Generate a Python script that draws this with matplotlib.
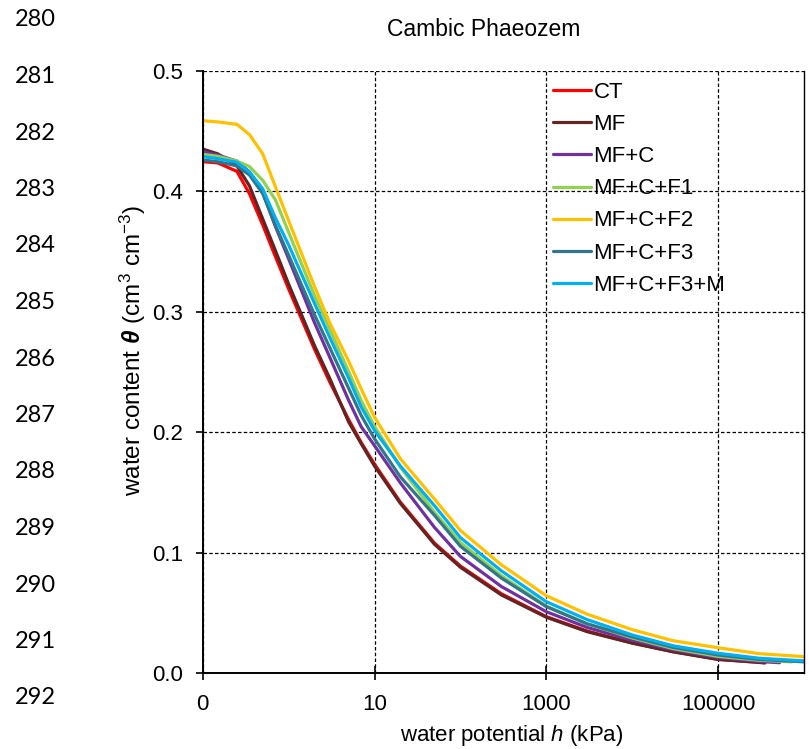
import matplotlib
matplotlib.use("Agg")
import matplotlib.pyplot as plt
from matplotlib.ticker import FixedLocator, FixedFormatter, NullLocator, MultipleLocator

plt.rcParams["font.family"] = ["Liberation Sans", "DejaVu Sans"]
plt.rcParams["mathtext.fontset"] = "custom"
plt.rcParams["mathtext.rm"] = "Liberation Sans"
plt.rcParams["mathtext.it"] = "Liberation Sans:italic"
plt.rcParams["mathtext.bf"] = "Liberation Sans:bold:italic"

# water potential h (kPa), common read-off points
H = [0.1, 0.15, 0.25, 0.35, 0.5, 0.7, 1, 2, 3, 5, 7, 10, 20, 50, 100, 300,
     1000, 3000, 1e4, 3e4, 1e5, 3e5]

# water content (cm3 cm-3) per treatment
CT = [0.4245, 0.4235, 0.4165, 0.398, 0.372, 0.346, 0.319, 0.269, 0.242, 0.2105,
      0.1915, 0.1736, 0.142, 0.108, 0.089, 0.066, 0.047, 0.035, 0.0253, 0.018,
      0.0116, 0.0092]
MF = [0.435, 0.431, 0.421, 0.4045, 0.377, 0.351, 0.323, 0.272, 0.245, 0.2085,
      0.1905, 0.172, 0.141, 0.107, 0.088, 0.065, 0.0465, 0.0345, 0.025, 0.0178,
      0.0115, 0.009]
MF_C = [0.4328, 0.430, 0.425, 0.416, 0.399, 0.371, 0.344, 0.291, 0.2626, 0.2265,
        0.2046, 0.1889, 0.158, 0.121, 0.097, 0.072, 0.0511, 0.038, 0.0275, 0.0195,
        0.013, 0.0098]
MF_C_F1 = [0.4306, 0.429, 0.425, 0.4205, 0.409, 0.393, 0.366, 0.3135, 0.2856, 0.2505,
           0.2264, 0.205, 0.171, 0.1335, 0.1085, 0.081, 0.0558, 0.041, 0.0293, 0.0205,
           0.014, 0.0108]
MF_C_F2 = [0.4585, 0.4575, 0.4555, 0.447, 0.431, 0.404, 0.3756, 0.321, 0.291, 0.259,
           0.236, 0.2125, 0.178, 0.1445, 0.1185, 0.090, 0.0644, 0.049, 0.0362, 0.027,
           0.0212, 0.0163]
MF_C_F3 = [0.4259, 0.4245, 0.421, 0.4135, 0.398, 0.372, 0.347, 0.2976, 0.2705, 0.2365,
           0.214, 0.1946, 0.163, 0.131, 0.1054, 0.079, 0.0553, 0.041, 0.0302, 0.0215,
           0.0152, 0.0115]
MF_C_F3_M = [0.4287, 0.427, 0.424, 0.416, 0.402, 0.378, 0.3555, 0.307, 0.279, 0.245,
             0.221, 0.2015, 0.172, 0.139, 0.1126, 0.085, 0.0594, 0.0445, 0.0318, 0.0228,
             0.0166, 0.0125]

# last measured point of each curve (h, theta)
END_POINTS = {
    "CT": (3.5e5, 0.0088),
    "MF": (3.5e5, 0.0086),
    "MF+C": (5.2e5, 0.0088),
    "MF+C+F1": (7.2e5, 0.0095),
    "MF+C+F2": (1e6, 0.0138),
    "MF+C+F3": (1e6, 0.0095),
    "MF+C+F3+M": (1e6, 0.0103),
}

SERIES = [
    ("CT", CT, "#FF0000"),
    ("MF", MF, "#632523"),
    ("MF+C", MF_C, "#7030A0"),
    ("MF+C+F1", MF_C_F1, "#92D050"),
    ("MF+C+F2", MF_C_F2, "#FFC000"),
    ("MF+C+F3", MF_C_F3, "#31768A"),
    ("MF+C+F3+M", MF_C_F3_M, "#00B0F0"),
]

X_TICKS = [0.1, 10, 1000, 1e5]
X_TICKLABELS = ["0", "10", "1000", "100000"]
LINE_NUMBERS = list(range(280, 293))

W, HGT = 809, 749
fig = plt.figure(figsize=(W / 100, HGT / 100), dpi=100)
# axes box in pixels: left 202.7, right 804, top 70.7, bottom 673.3
ax = fig.add_axes([202.7 / W, 1 - 673.3 / HGT, (804 - 202.7) / W, (673.3 - 70.7) / HGT])

for name, theta, color in SERIES:
    hx = H + [END_POINTS[name][0]]
    ty = theta + [END_POINTS[name][1]]
    ax.plot(hx, ty, color=color, lw=2.3, label=name,
            solid_capstyle="round", solid_joinstyle="round")

ax.set_xscale("log")
ax.set_xlim(0.1, 1e6)
ax.set_ylim(0, 0.5)
ax.xaxis.set_major_locator(FixedLocator(X_TICKS))
ax.xaxis.set_major_formatter(FixedFormatter(X_TICKLABELS))
ax.xaxis.set_minor_locator(NullLocator())
ax.yaxis.set_major_locator(MultipleLocator(0.1))
ax.yaxis.set_major_formatter(plt.FormatStrFormatter("%.1f"))

ax.grid(True, color="black", linestyle=(0, (2.8, 1.8)), linewidth=0.9)
ax.spines["top"].set_visible(False)
ax.spines["left"].set_linewidth(1.4)
ax.spines["bottom"].set_linewidth(1.4)
ax.spines["right"].set_linewidth(1.0)
ax.tick_params(axis="x", direction="inout", length=10, width=1.2, labelsize=16, pad=10)
ax.tick_params(axis="y", direction="out", length=5, width=1.2, labelsize=16, pad=9)

ax.set_xlabel(r"water potential $h$ (kPa)", fontsize=16)
ax.xaxis.set_label_coords((512 - 202.7) / (804 - 202.7), -(735 - 673.3) / (673.3 - 70.7))
ax.xaxis.label.set_va("center")
ax.set_ylabel(r"water content $\mathbf{\theta}$ (cm$^{3}$ cm$^{-3}$)", fontsize=17.5, va="center")
ax.yaxis.set_label_coords(-(202.7 - 133) / (804 - 202.7), (673.3 - 350) / (673.3 - 70.7))

fig.text(484 / W, 1 - 29 / HGT, "Cambic Phaeozem", ha="center", va="center", fontsize=16.5)

leg = ax.legend(loc="upper left", bbox_to_anchor=(553 / W, 1 - 82 / HGT),
                bbox_transform=fig.transFigure, frameon=False, fontsize=16,
                borderpad=0, borderaxespad=0, handlelength=1.7, handletextpad=0.12,
                labelspacing=0.5)

for i, num in enumerate(LINE_NUMBERS):
    fig.text(35 / W, 1 - (20 + i * 56.5) / HGT, str(num), ha="center", va="center",
             fontsize=17, family=["Lato", "DejaVu Sans"], color="black")

fig.savefig("out.png", dpi=100)
